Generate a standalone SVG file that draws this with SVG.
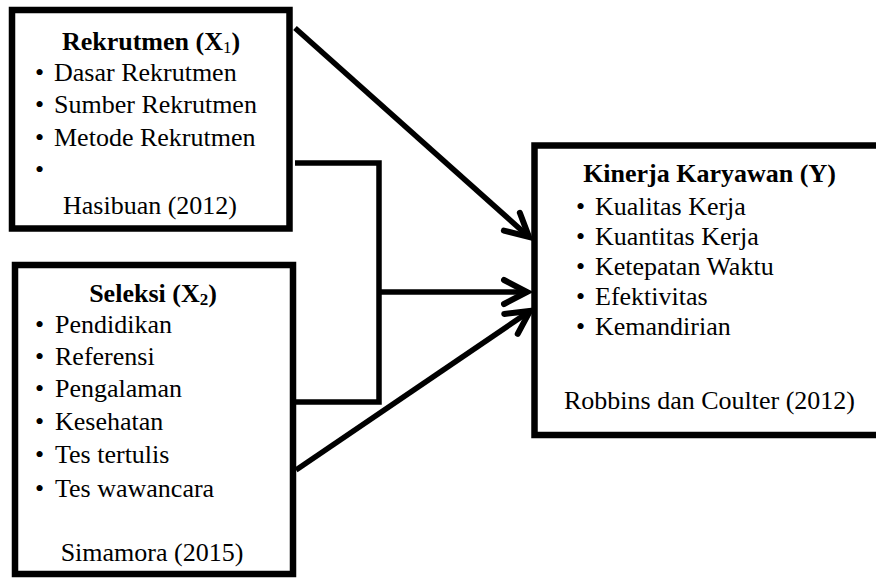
<svg xmlns="http://www.w3.org/2000/svg" width="876" height="581" viewBox="0 0 876 581">
<style>
.box{fill:#fff;stroke:#000;stroke-width:6.5}
.t{font-family:"Liberation Serif","Times New Roman",serif;font-size:26px;fill:#000}
.b{font-weight:bold}
.c{text-anchor:middle}
.con{fill:none;stroke:#000;stroke-width:5.5}
</style>
<defs>
<marker id="ah" markerUnits="userSpaceOnUse" markerWidth="40" markerHeight="40" refX="0" refY="0" viewBox="-30 -20 40 40" orient="auto" overflow="visible">
<path d="M-23,-12 L0,0 L-23,12" fill="none" stroke="#000" stroke-width="6" stroke-linecap="round" stroke-linejoin="miter"/>
</marker>
</defs>
<rect width="876" height="581" fill="#fff"/>
<g id="connectors">
<path class="con" d="M295,163 H379 V402 H295"/>
<line class="con" x1="295" y1="28" x2="529" y2="237" marker-end="url(#ah)"/>
<line class="con" x1="379" y1="292" x2="527" y2="292" marker-end="url(#ah)"/>
<line class="con" x1="296" y1="470" x2="530" y2="311" marker-end="url(#ah)"/>
</g>
<g id="rekrutmen">
<rect class="box" x="12" y="10" width="277.5" height="218.5"/>
<text class="t b c" x="151" y="50">Rekrutmen (X<tspan font-size="17" font-weight="normal" dy="3">1</tspan><tspan dy="-3">)</tspan></text>
<text class="t" x="35" y="81">•</text><text class="t" x="54" y="81">Dasar Rekrutmen</text>
<text class="t" x="35" y="113">•</text><text class="t" x="54" y="113">Sumber Rekrutmen</text>
<text class="t" x="35" y="146">•</text><text class="t" x="54" y="146">Metode Rekrutmen</text>
<text class="t" x="35" y="178">•</text>
<text class="t c" x="150" y="214">Hasibuan (2012)</text>
</g>
<g id="seleksi">
<rect class="box" x="15" y="265" width="278" height="309"/>
<text class="t b c" x="153" y="302">Seleksi (X<tspan font-size="17" dy="3">2</tspan><tspan dy="-3">)</tspan></text>
<text class="t" x="35" y="333">•</text><text class="t" x="55" y="333">Pendidikan</text>
<text class="t" x="35" y="365">•</text><text class="t" x="55" y="365">Referensi</text>
<text class="t" x="35" y="397">•</text><text class="t" x="55" y="397">Pengalaman</text>
<text class="t" x="35" y="430">•</text><text class="t" x="55" y="430">Kesehatan</text>
<text class="t" x="35" y="463">•</text><text class="t" x="55" y="463">Tes tertulis</text>
<text class="t" x="35" y="497">•</text><text class="t" x="55" y="497">Tes wawancara</text>
<text class="t c" x="152" y="561">Simamora (2015)</text>
</g>
<g id="kinerja">
<rect class="box" x="534.5" y="145.5" width="350" height="289.5"/>
<text class="t b c" x="709.5" y="182">Kinerja Karyawan (Y)</text>
<text class="t" x="576" y="215">•</text><text class="t" x="595" y="215">Kualitas Kerja</text>
<text class="t" x="576" y="245">•</text><text class="t" x="595" y="245">Kuantitas Kerja</text>
<text class="t" x="576" y="275">•</text><text class="t" x="595" y="275">Ketepatan Waktu</text>
<text class="t" x="576" y="305">•</text><text class="t" x="595" y="305">Efektivitas</text>
<text class="t" x="576" y="335">•</text><text class="t" x="595" y="335">Kemandirian</text>
<text class="t c" x="709.5" y="409">Robbins dan Coulter (2012)</text>
</g>
</svg>
